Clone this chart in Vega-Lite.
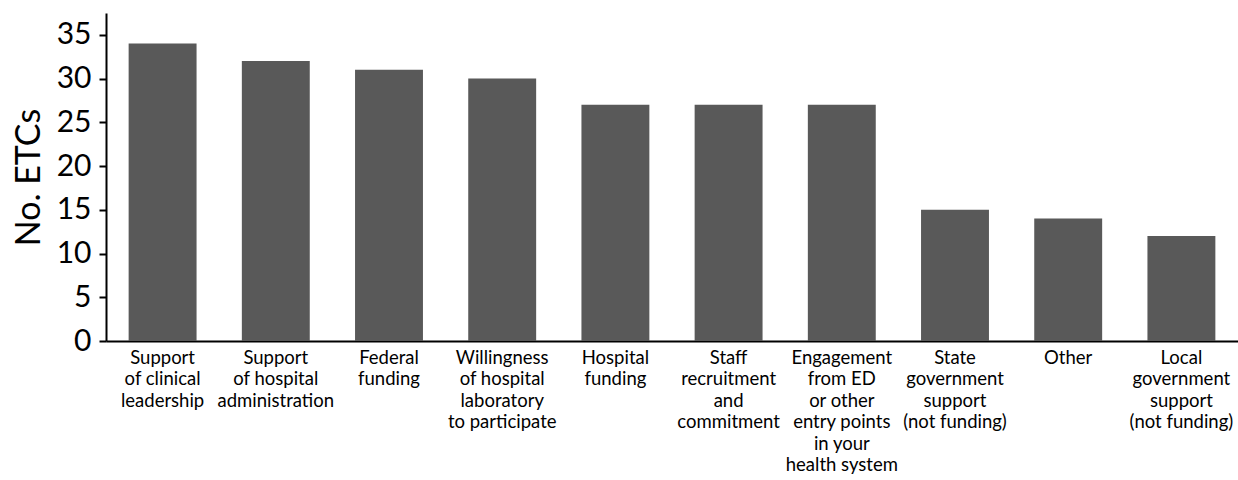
{
  "$schema": "https://vega.github.io/schema/vega-lite/v6.json",
  "width": 1132,
  "height": 328,
  "autosize": {"type": "none"},
  "padding": {"left": 106, "top": 13, "right": 0, "bottom": 139},
  "background": "white",
  "data": {"values": [
    {"factor": "Support|of clinical|leadership", "count": 34},
    {"factor": "Support|of hospital|administration", "count": 32},
    {"factor": "Federal|funding", "count": 31},
    {"factor": "Willingness|of hospital|laboratory|to participate", "count": 30},
    {"factor": "Hospital|funding", "count": 27},
    {"factor": "Staff|recruitment|and|commitment", "count": 27},
    {"factor": "Engagement|from ED|or other|entry points|in your|health system", "count": 27},
    {"factor": "State|government|support|(not funding)", "count": 15},
    {"factor": "Other", "count": 14},
    {"factor": "Local|government|support|(not funding)", "count": 12}
  ]},
  "mark": {"type": "bar", "color": "#595959"},
  "encoding": {
    "x": {
      "field": "factor", "type": "nominal", "sort": null,
      "scale": {"paddingInner": 0.4, "paddingOuter": 0.2},
      "axis": {
        "title": null, "labelAngle": 0, "ticks": false,
        "labelExpr": "split(datum.label, '|')",
        "labelFont": "Lato", "labelFontSize": 18.5, "labelLineHeight": 21.5,
        "labelColor": "black", "labelPadding": 7, "labelOverlap": false, "labelBound": false,
        "labelLimit": 300,
        "domainColor": "black", "domainWidth": 2
      }
    },
    "y": {
      "field": "count", "type": "quantitative",
      "scale": {"domain": [0, 37.5], "nice": false},
      "axis": {
        "title": "No. ETCs", "titleFont": "Lato", "titleFontSize": 34, "titleFontWeight": "normal",
        "titleColor": "black", "titlePadding": 10,
        "values": [0, 5, 10, 15, 20, 25, 30, 35],
        "labelFont": "Lato", "labelFontSize": 30, "labelColor": "black", "labelPadding": 8,
        "tickColor": "black", "tickWidth": 2, "tickSize": 7,
        "domainColor": "black", "domainWidth": 2, "grid": false
      }
    }
  },
  "config": {"view": {"stroke": null}}
}
